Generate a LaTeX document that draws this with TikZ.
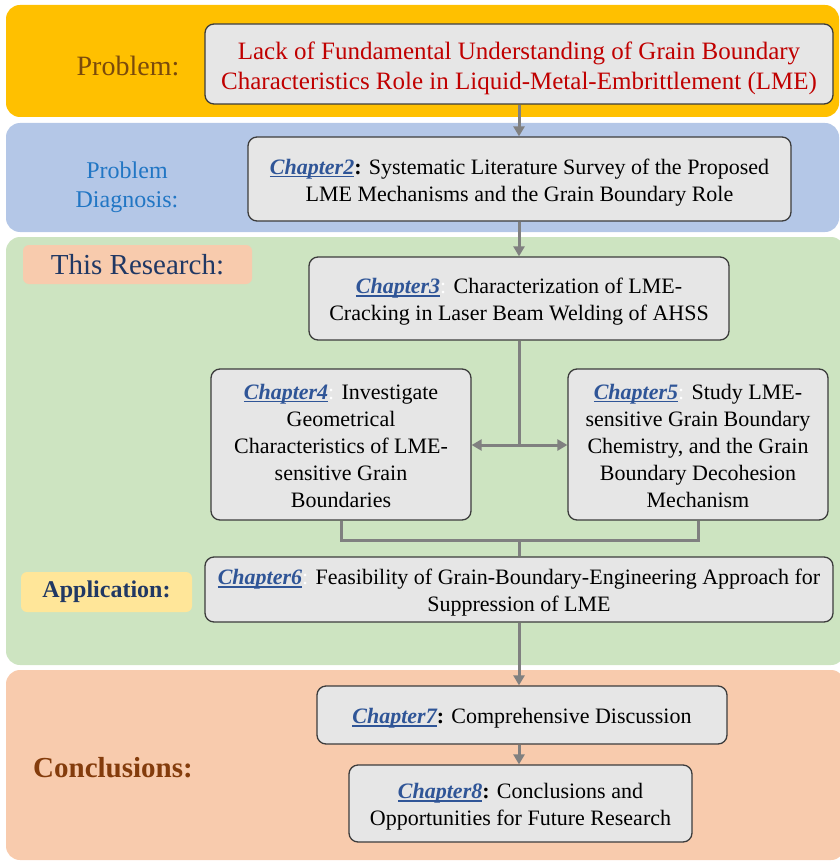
\documentclass[tikz,border=0pt]{standalone}
\usepackage{fontspec}
\setmainfont{Liberation Serif}
\usetikzlibrary{arrows.meta}
\definecolor{goldband}{HTML}{FFC000}
\definecolor{blueband}{HTML}{B4C7E7}
\definecolor{greenband}{HTML}{CDE4C1}
\definecolor{peachband}{HTML}{F8CBAD}
\definecolor{boxfill}{HTML}{E6E6E6}
\definecolor{boxline}{HTML}{3C3C3C}
\definecolor{conngray}{HTML}{808080}
\definecolor{probred}{HTML}{C00000}
\definecolor{probbrown}{HTML}{7A4A0C}
\definecolor{diagblue}{HTML}{2176C4}
\definecolor{navy}{HTML}{203864}
\definecolor{appyellow}{HTML}{FFE699}
\definecolor{concbrown}{HTML}{843C0C}
\definecolor{chapblue}{HTML}{2F5597}
\newcommand{\chapname}[1]{{\color{chapblue}\bfseries\itshape\setbox0\hbox{Chapter#1}\rlap{\rule[-3pt]{\wd0}{1.8pt}}\box0}}
\newcommand{\fstrut}{\rule{0pt}{1.04em}}
\newcommand{\lstrut}{\rule[-0.23em]{0pt}{0pt}}
\tikzset{
  band/.style={rounded corners=14pt},
  box/.style={draw=boxline, fill=boxfill, line width=1.3pt, rounded corners=9pt,
    align=center, inner sep=0pt, font=\fontsize{22}{27}\selectfont},
  conn/.style={draw=conngray, line width=3pt},
  arr/.style={conn, -{Triangle[length=10pt,width=11pt]}},
  lbl/.style={inner sep=0pt, align=center},
}
\begin{document}
\begin{tikzpicture}[x=1pt,y=-1pt]
\useasboundingbox (0,0) rectangle (839,861);
% bands
\fill[band, goldband] (6,5) rectangle (839,117);
\fill[band, blueband] (6,123) rectangle (839,232);
\fill[band, greenband] (6,237) rectangle (845,665);
\fill[band, peachband] (6,670) rectangle (845,860);
% side labels
\node[lbl, text=probbrown, font=\fontsize{28}{33}\selectfont] (lprob) at (128,66) {Problem:};
\node[lbl, text=diagblue, font=\fontsize{24}{29}\selectfont] (ldiag) at (127,187) {Problem\\Diagnosis:};
\node[lbl, fill=peachband, rounded corners=6pt, minimum width=229pt, minimum height=39pt,
  text=navy, font=\fontsize{29}{34}\selectfont] (lres) at (137.5,264.5) {This Research:};
\node[lbl, fill=appyellow, rounded corners=6pt, minimum width=171pt, minimum height=40pt,
  text=navy, font=\fontsize{24}{29}\selectfont\bfseries] (lapp) at (106.5,592) {Application:};
\node[lbl, text=concbrown, font=\fontsize{29}{34}\selectfont\bfseries] (lconc) at (113,768) {Conclusions:};
% boxes
\node[box, minimum width=628pt, minimum height=80pt, text=probred,
  font=\fontsize{25}{30}\selectfont] (b1) at (519,64)
  {\fstrut Lack of Fundamental Understanding of Grain Boundary\\Characteristics Role in Liquid-Metal-Embrittlement (LME)\lstrut};
\node[box, minimum width=543pt, minimum height=84pt] (b2) at (519.5,179)
  {\fstrut\chapname{2}\textbf{:} Systematic Literature Survey of the Proposed\\LME Mechanisms and the Grain Boundary Role\lstrut};
\node[box, minimum width=420pt, minimum height=83pt] (b3) at (519,298.5)
  {\fstrut\chapname{3}{\color{white}:} Characterization of LME-\\Cracking in Laser Beam Welding of AHSS\lstrut};
\node[box, minimum width=260pt, minimum height=151pt] (b4) at (341,444.5)
  {\fstrut\chapname{4}{\color{white}:} Investigate\\Geometrical\\Characteristics of LME-\\sensitive Grain\\Boundaries\lstrut};
\node[box, minimum width=260pt, minimum height=151pt] (b5) at (698,444.5)
  {\fstrut\chapname{5}{\color{white}:} Study LME-\\sensitive Grain Boundary\\Chemistry, and the Grain\\Boundary Decohesion\\Mechanism\lstrut};
\node[box, minimum width=628pt, minimum height=65pt] (b6) at (519,589.5)
  {\fstrut\chapname{6}{\color{white}:} Feasibility of Grain-Boundary-Engineering Approach for\\Suppression of LME\lstrut};
\node[box, minimum width=410pt, minimum height=58pt] (b7) at (522,715)
  {\fstrut\chapname{7}\textbf{:} Comprehensive Discussion\lstrut};
\node[box, minimum width=343pt, minimum height=77pt] (b8) at (520.5,803.5)
  {\fstrut\chapname{8}\textbf{:} Conclusions and\\Opportunities for Future Research\lstrut};
% connectors
\coordinate (j1) at (519,445);
\coordinate (j2) at (519,540);
\draw[arr] (b1.south) -- (b1.south |- b2.north);
\draw[arr] (b1.south |- b2.south) -- (b3.north);
\draw[conn] (b3.south) -- (j1);
\draw[arr] (j1) -- (j1 -| b4.east);
\draw[arr] (j1) -- (j1 -| b5.west);
\draw[conn] (b4.south) |- (j2) -| (b5.south);
\draw[conn] (j2) -- (b6.north);
\draw[arr] (b6.south) -- (b6.south |- b7.north);
\draw[arr] (b6.south |- b7.south) -- (b6.south |- b8.north);
\end{tikzpicture}
\end{document}
